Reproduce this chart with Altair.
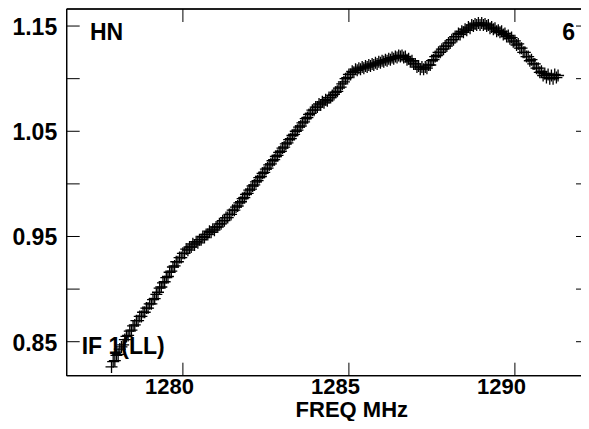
import altair as alt
import pandas as pd

# ---- data (one value per 0.05 MHz channel) ----
freq_start = 1277.85
freq_step = 0.05
amplitude = [
    0.826, 0.831, 0.832, 0.837, 0.838, 0.843, 0.845, 0.847, 0.852, 0.855,
    0.856, 0.860, 0.861, 0.865, 0.866, 0.870, 0.870, 0.874, 0.874, 0.878,
    0.878, 0.882, 0.882, 0.886, 0.886, 0.890, 0.891, 0.895, 0.897, 0.901,
    0.902, 0.906, 0.907, 0.911, 0.912, 0.916, 0.917, 0.921, 0.922, 0.926,
    0.926, 0.930, 0.930, 0.934, 0.934, 0.938, 0.937, 0.940, 0.940, 0.943,
    0.942, 0.945, 0.944, 0.947, 0.947, 0.950, 0.949, 0.952, 0.952, 0.955,
    0.954, 0.957, 0.956, 0.959, 0.959, 0.962, 0.962, 0.965, 0.965, 0.968,
    0.968, 0.971, 0.971, 0.975, 0.975, 0.978, 0.979, 0.982, 0.983, 0.986,
    0.987, 0.990, 0.991, 0.994, 0.995, 0.998, 0.999, 1.002, 1.003, 1.006,
    1.007, 1.010, 1.011, 1.014, 1.015, 1.018, 1.019, 1.022, 1.023, 1.026,
    1.027, 1.030, 1.031, 1.034, 1.035, 1.038, 1.039, 1.042, 1.043, 1.046,
    1.047, 1.050, 1.051, 1.054, 1.055, 1.058, 1.059, 1.062, 1.063, 1.066,
    1.067, 1.070, 1.070, 1.073, 1.073, 1.076, 1.075, 1.078, 1.077, 1.080,
    1.079, 1.082, 1.082, 1.084, 1.085, 1.087, 1.088, 1.091, 1.092, 1.095,
    1.097, 1.100, 1.101, 1.104, 1.104, 1.107, 1.106, 1.109, 1.108, 1.110,
    1.109, 1.111, 1.110, 1.112, 1.111, 1.113, 1.112, 1.114, 1.113, 1.115,
    1.114, 1.116, 1.115, 1.117, 1.116, 1.118, 1.117, 1.119, 1.118, 1.120,
    1.119, 1.121, 1.120, 1.122, 1.121, 1.122, 1.120, 1.121, 1.118, 1.119,
    1.116, 1.117, 1.114, 1.114, 1.111, 1.112, 1.109, 1.111, 1.109, 1.111,
    1.110, 1.113, 1.113, 1.117, 1.118, 1.121, 1.122, 1.125, 1.125, 1.128,
    1.128, 1.131, 1.131, 1.134, 1.134, 1.137, 1.137, 1.140, 1.140, 1.143,
    1.142, 1.145, 1.144, 1.147, 1.146, 1.149, 1.148, 1.151, 1.150, 1.152,
    1.151, 1.153, 1.151, 1.153, 1.151, 1.152, 1.150, 1.151, 1.148, 1.149,
    1.147, 1.148, 1.145, 1.146, 1.144, 1.145, 1.142, 1.143, 1.140, 1.141,
    1.138, 1.139, 1.135, 1.136, 1.132, 1.133, 1.129, 1.129, 1.125, 1.125,
    1.121, 1.121, 1.117, 1.118, 1.114, 1.114, 1.110, 1.110, 1.106, 1.107,
    1.103, 1.105, 1.101, 1.104, 1.100, 1.103, 1.100, 1.104, 1.101, 1.103,
]
freqs = [round(freq_start + i * freq_step, 3) for i in range(len(amplitude))]

x_ticks = [1280, 1285, 1290]
y_ticks = [0.85, 0.90, 0.95, 1.00, 1.05, 1.10, 1.15]
y_labels = [0.85, 0.95, 1.05, 1.15]
x_domain = [1276.5, 1291.991]
y_domain = [0.8177, 1.1662]

label_top_left = ["HN"]
label_top_right = ["6"]
label_bottom_left = ["IF 1(LL)"]

W = 514.3
H = 366.7
TICK = 13
FONT = "Liberation Sans"
FS = 23
FS_X = 22

df = pd.DataFrame({"freq": freqs, "amp": amplitude})
xs = alt.Scale(domain=x_domain, nice=False, zero=False)
ys = alt.Scale(domain=y_domain, nice=False, zero=False)

points = alt.Chart(df).mark_point(
    shape="M-1,0H1M0,-1V1", filled=False, size=144, strokeWidth=1.3,
    color="black", opacity=1,
).encode(
    x=alt.X("freq:Q", scale=xs, axis=alt.Axis(
        values=x_ticks, format="d", ticks=False, domain=False, grid=False,
        labelFont=FONT, labelFontSize=FS_X, labelFontWeight="bold", labelColor="black",
        labelBaseline="alphabetic", labelPadding=17.6, labelOffset=-14,
        labelFlush=False, labelOverlap=False,
        title="FREQ MHz", titleFont=FONT, titleFontSize=FS_X, titleFontWeight="bold",
        titleColor="black", titleBaseline="alphabetic", titleAlign="center",
        titleX=284.6, titleY=40.6,
    )),
    y=alt.Y("amp:Q", scale=ys, axis=alt.Axis(
        values=y_labels, format=".2f", ticks=False, domain=False, grid=False,
        labelFont=FONT, labelFontSize=FS, labelFontWeight="bold", labelColor="black",
        labelBaseline="alphabetic", labelOffset=8.5, labelPadding=10,
        labelOverlap=False, labelFlush=False, title="",
    )),
)

ydf = pd.DataFrame({"amp": y_ticks})
xdf = pd.DataFrame({"freq": x_ticks})

rule = dict(color="black", strokeWidth=1)
left_ticks = alt.Chart(ydf).mark_rule(**rule).encode(
    y=alt.Y("amp:Q", scale=ys), x=alt.value(0), x2=alt.value(TICK))
right_ticks = alt.Chart(ydf).mark_rule(**rule).encode(
    y=alt.Y("amp:Q", scale=ys), x=alt.value(W - 5), x2=alt.value(W))
bottom_ticks = alt.Chart(xdf).mark_rule(**rule).encode(
    x=alt.X("freq:Q", scale=xs), y=alt.value(H - TICK), y2=alt.value(H))
top_ticks = alt.Chart(xdf).mark_rule(**rule).encode(
    x=alt.X("freq:Q", scale=xs), y=alt.value(0), y2=alt.value(TICK))

# frame (left, top, bottom; the right side lies beyond the picture)
frame_left = alt.Chart(xdf).mark_rule(**rule).encode(
    x=alt.value(0), y=alt.value(0), y2=alt.value(H))
frame_top = alt.Chart(xdf).mark_rule(**rule).encode(
    x=alt.value(0), x2=alt.value(W), y=alt.value(0))
frame_bottom = alt.Chart(xdf).mark_rule(**rule).encode(
    x=alt.value(0), x2=alt.value(W), y=alt.value(H))


def label(text_list, px, py):
    return alt.Chart(pd.DataFrame({"t": text_list})).mark_text(
        align="left", baseline="alphabetic", font=FONT, fontSize=FS,
        fontWeight="bold", color="black",
    ).encode(text="t:N", x=alt.value(px), y=alt.value(py))


chart = alt.layer(
    points, left_ticks, right_ticks, bottom_ticks, top_ticks,
    frame_left, frame_top, frame_bottom,
    label(label_top_left, 23.3, 31),
    label(label_top_right, 495.6, 31),
    label(label_bottom_left, 15, 345),
).properties(
    width=W, height=H,
    autosize=alt.AutoSizeParams(type="none"),
    padding={"left": 58.7, "top": 1, "right": 0, "bottom": 45.3},
).configure_view(
    strokeWidth=0,
)

chart.save("out.html", embed_options={"renderer": "svg", "actions": False})
